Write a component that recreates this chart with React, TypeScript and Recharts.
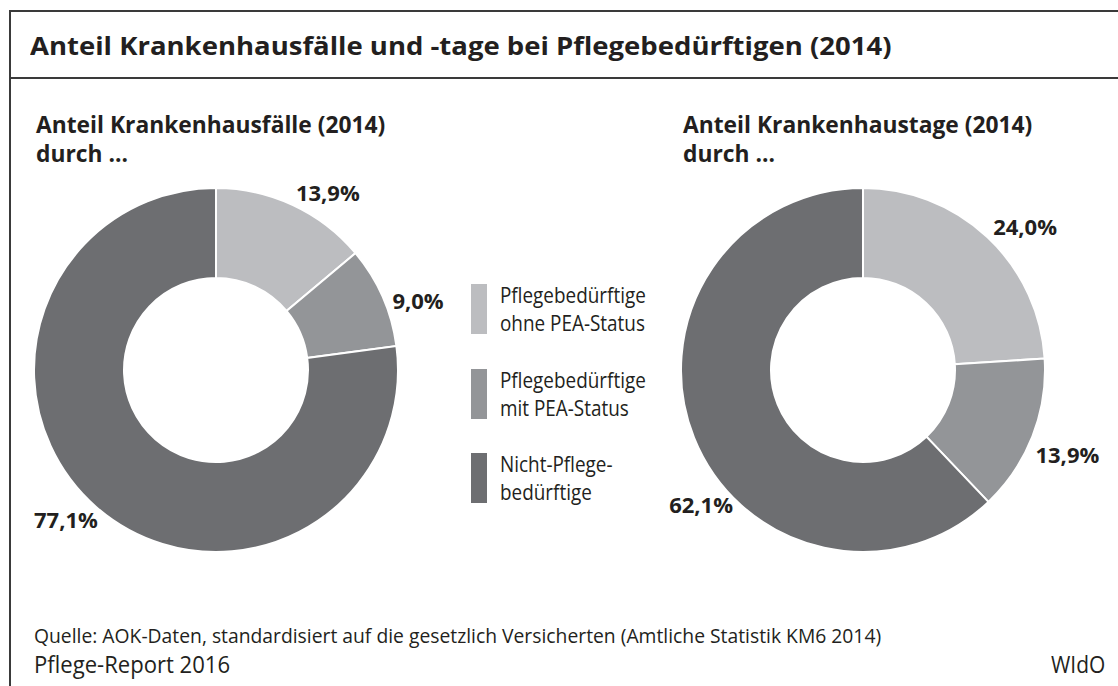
import { PieChart, Pie, Cell } from "recharts";

const CATEGORIES = [
  "Pflegebedürftige ohne PEA-Status",
  "Pflegebedürftige mit PEA-Status",
  "Nicht-Pflegebedürftige",
];

const LEGEND_LINES = [
  ["Pflegebedürftige", "ohne PEA-Status"],
  ["Pflegebedürftige", "mit PEA-Status"],
  ["Nicht-Pflege-", "bedürftige"],
];

const FAELLE = [13.9, 9.0, 77.1];
const TAGE = [24.0, 13.9, 62.1];

const COLORS = ["#bcbdc0", "#939598", "#6d6e71"];

const FONT = "'Open Sans', sans-serif";

// label placement tweaks per slice (radius, dx, dy, anchor)
const LEFT_LABELS = [
  { r: 196, dx: -3, dy: 0, anchor: "start" },
  { r: 196, dx: -3, dy: 9, anchor: "start" },
  { r: 196, dx: 11, dy: 2, anchor: "end" },
];
const RIGHT_LABELS = [
  { r: 196, dx: -4, dy: -1, anchor: "start" },
  { r: 196, dx: -10, dy: 12, anchor: "start" },
  { r: 196, dx: 52, dy: 61, anchor: "end" },
];

const toRows = (values: number[]) =>
  CATEGORIES.map((name, i) => ({ name, value: values[i] }));

const fmt = (v: number) => v.toFixed(1).replace(".", ",") + "%";

const makeLabel = (cfg: typeof LEFT_LABELS) => (props: any) => {
  const { cx, cy, midAngle, index, value } = props;
  const c = cfg[index];
  const rad = (Math.PI / 180) * midAngle;
  const x = cx + c.r * Math.cos(rad) + c.dx;
  const y = cy - c.r * Math.sin(rad) + c.dy;
  return (
    <text
      x={x}
      y={y}
      textAnchor={c.anchor}
      dominantBaseline="central"
      fill="#231f20"
      fontFamily={FONT}
      fontWeight={700}
      fontSize={22}
    >
      {fmt(value)}
    </text>
  );
};

export default function App() {
  const abs = (left: number, top: number, size: number, sx = 1): React.CSSProperties => ({
    position: "absolute",
    left,
    top,
    fontFamily: FONT,
    fontSize: size,
    color: "#231f20",
    whiteSpace: "nowrap",
    transform: `scaleX(${sx})`,
    transformOrigin: "left top",
  });

  return (
    <div style={{ position: "absolute", left: 0, top: 0, width: 1118, height: 686, background: "#fff", overflow: "hidden" }}>
      <div
        style={{
          position: "absolute",
          left: 9,
          top: 10,
          width: 1120,
          height: 700,
          border: "2px solid #3a3a3a",
          boxSizing: "border-box",
        }}
      />
      <div style={{ position: "absolute", left: 9, top: 77, width: 1118, height: 2, background: "#3a3a3a" }} />

      <div style={{ ...abs(30, 28, 25, 1.1), fontWeight: 700 }}>
        Anteil Krankenhausfälle und -tage bei Pflegebedürftigen (2014)
      </div>

      <div style={{ ...abs(36, 110, 22.8), fontWeight: 700, lineHeight: "29px" }}>
        Anteil Krankenhausfälle (2014)
        <br />
        durch …
      </div>
      <div style={{ ...abs(683, 110, 22.8), fontWeight: 700, lineHeight: "29px" }}>
        Anteil Krankenhaustage (2014)
        <br />
        durch …
      </div>

      <div style={{ position: "absolute", left: 0, top: 0 }}>
        <PieChart width={1118} height={686} margin={{ top: 0, right: 0, bottom: 0, left: 0 }}>
          <Pie
            data={toRows(FAELLE)}
            dataKey="value"
            cx={216}
            cy={370}
            innerRadius={92}
            outerRadius={182}
            startAngle={90}
            endAngle={-270}
            stroke="#fff"
            strokeWidth={2}
            label={makeLabel(LEFT_LABELS)}
            labelLine={false}
            isAnimationActive={false}
          >
            {FAELLE.map((_, i) => (
              <Cell key={`f-${i}`} fill={COLORS[i]} />
            ))}
          </Pie>
          <Pie
            data={toRows(TAGE)}
            dataKey="value"
            cx={863}
            cy={370}
            innerRadius={92}
            outerRadius={182}
            startAngle={90}
            endAngle={-270}
            stroke="#fff"
            strokeWidth={2}
            label={makeLabel(RIGHT_LABELS)}
            labelLine={false}
            isAnimationActive={false}
          >
            {TAGE.map((_, i) => (
              <Cell key={`t-${i}`} fill={COLORS[i]} />
            ))}
          </Pie>
        </PieChart>
      </div>

      {LEGEND_LINES.map((lines, i) => (
        <div key={CATEGORIES[i]} style={{ position: "absolute", left: 471, top: 284 + i * 84.5 }}>
          <div style={{ position: "absolute", left: 0, top: 0, width: 16, height: 50, background: COLORS[i] }} />
          <div style={{ ...abs(29, -3, 21, 0.9), lineHeight: "28px" }}>
            {lines[0]}
            <br />
            {lines[1]}
          </div>
        </div>
      ))}

      <div style={{ ...abs(34, 622, 20, 0.965) }}>
        Quelle: AOK-Daten, standardisiert auf die gesetzlich Versicherten (Amtliche Statistik KM6 2014)
      </div>
      <div style={{ ...abs(34, 648, 23, 0.96) }}>Pflege-Report 2016</div>
      <div style={{ ...abs(1051, 648, 23, 0.91) }}>WIdO</div>
    </div>
  );
}
